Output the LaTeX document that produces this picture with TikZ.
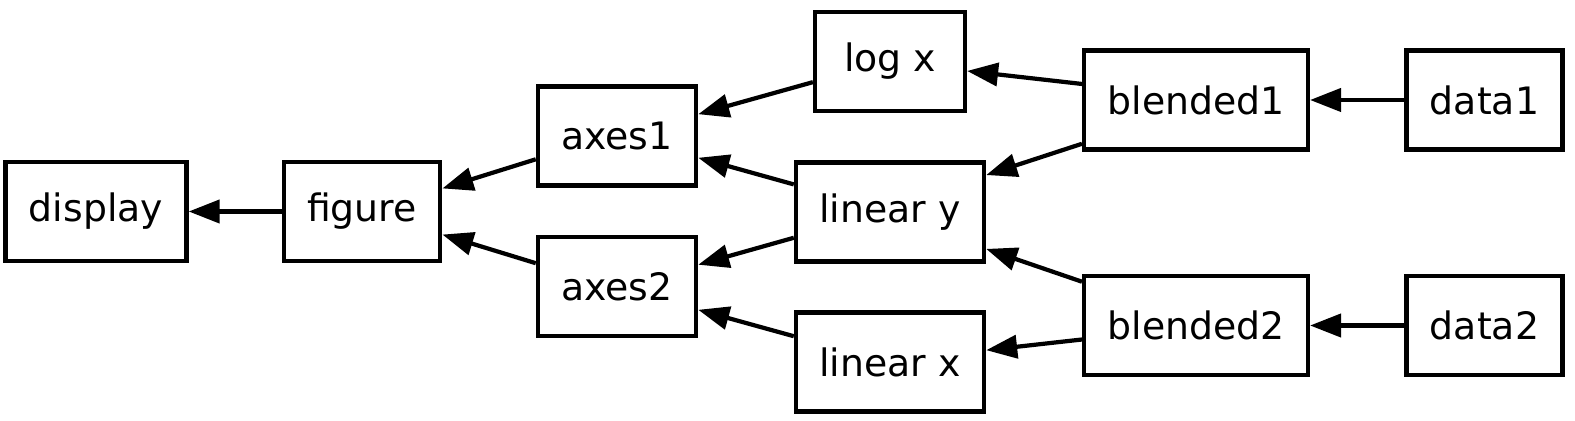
\documentclass[tikz,border=0pt]{standalone}
\usepackage{fontspec}
\setmainfont{DejaVu Sans}
\usetikzlibrary{arrows.meta}

\tikzset{
  blok/.style={draw, line width=2.4pt, rectangle, inner xsep=0.47cm,
    minimum width=3cm, minimum height=1.98cm,
    font=\fontsize{21.5}{25}\selectfont},
  krawedz/.style={->, line width=2.4pt}
}

\begin{document}
\begin{tikzpicture}[x=0.02cm, y=-0.02cm, >={Triangle[length=0.62cm, width=0.46cm]}]
  \useasboundingbox (0,0) rectangle (1575,421);

  % Wyjscie
  \node[blok] (display) at (96,211.5) {display};
  \node[blok] (figure) at (362,211.5) {figure};

  % Osie
  \node[blok] (axes1) at (617,136) {axes1};
  \node[blok] (axes2) at (617,286.5) {axes2};

  % Transformacje
  \node[blok] (logx) at (890,61.5) {log x};
  \node[blok] (lineary) at (890,212) {linear y};
  \node[blok] (linearx) at (890,362) {linear x};

  % Dane
  \node[blok] (blended1) at (1196,100) {blended1};
  \node[blok] (blended2) at (1196,325.5) {blended2};
  \node[blok] (data1) at (1484.5,100) {data1};
  \node[blok] (data2) at (1484.5,325.5) {data2};

  % Strzalki
  \draw[krawedz] (figure.west) -- (display.east);
  \draw[krawedz] (axes1.196) -- (figure.16);
  \draw[krawedz] (axes2.164) -- (figure.-16);
  \draw[krawedz] (logx.195) -- (axes1.15);
  \draw[krawedz] (lineary.164) -- (axes1.-15);
  \draw[krawedz] (lineary.195) -- (axes2.15);
  \draw[krawedz] (linearx.165) -- (axes2.-16);
  \draw[krawedz] (blended1.172) -- (logx.-7);
  \draw[krawedz] (blended1.201) -- (lineary.21);
  \draw[krawedz] (blended2.159) -- (lineary.-21);
  \draw[krawedz] (blended2.187) -- (linearx.7);
  \draw[krawedz] (data1.west) -- (blended1.east);
  \draw[krawedz] (data2.west) -- (blended2.east);
\end{tikzpicture}
\end{document}
